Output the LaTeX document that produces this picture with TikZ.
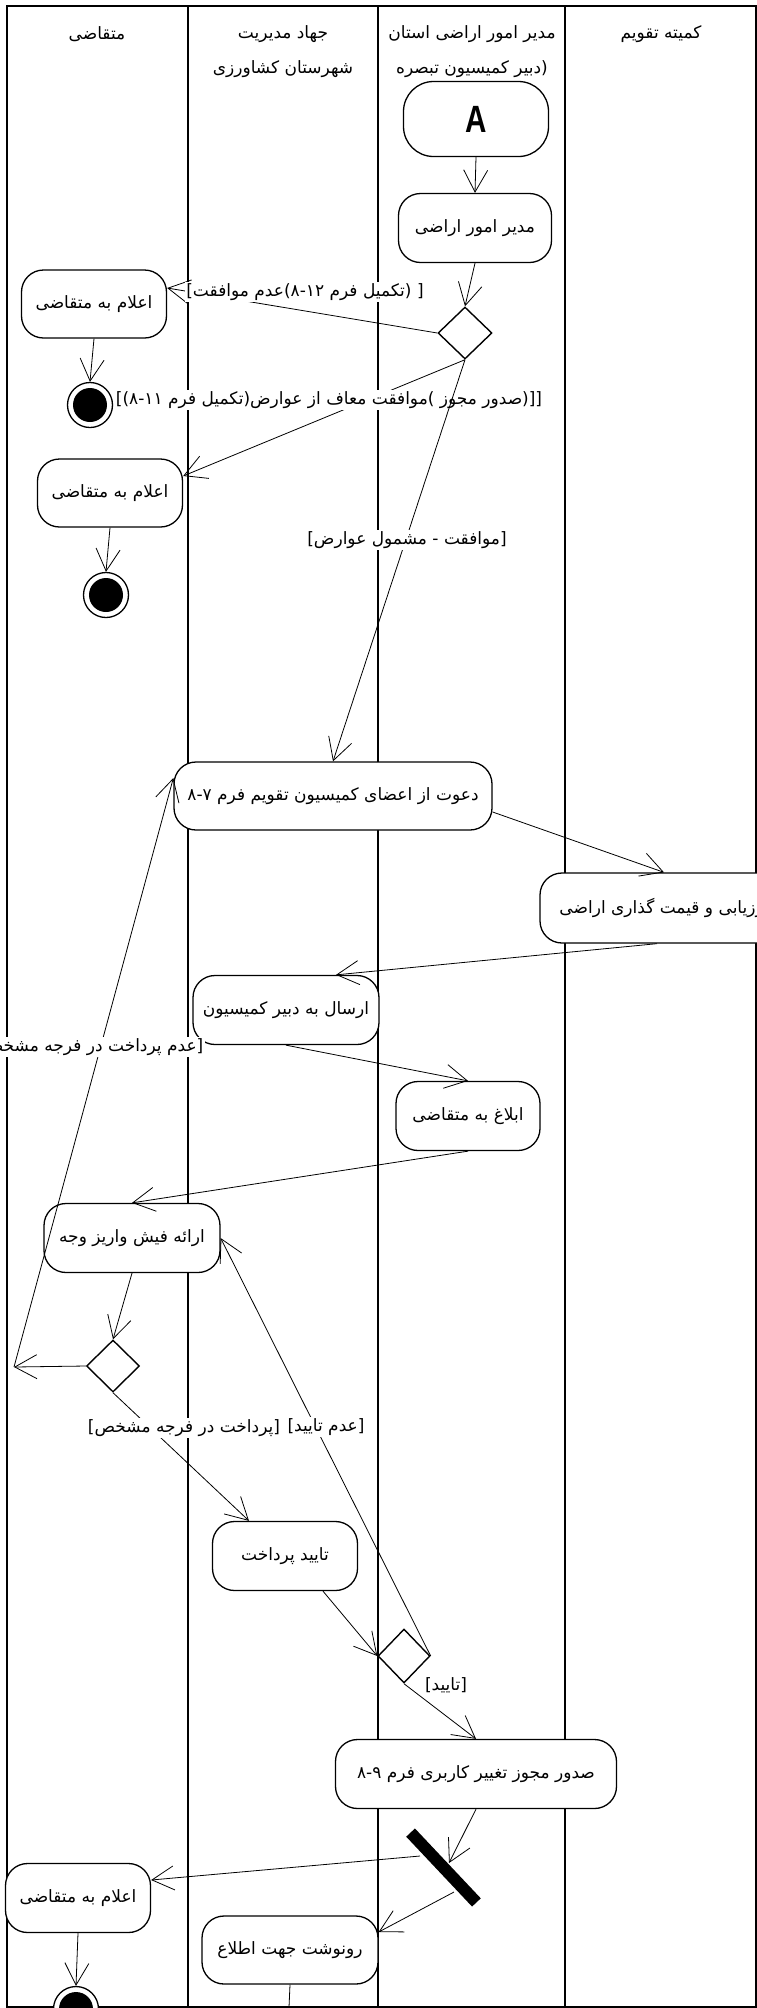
\documentclass[tikz,border=0pt]{standalone}
\usepackage{fontspec}
\setmainfont{DejaVu Sans}[Script=Arabic]
\newfontfamily\latinfont{Liberation Sans}
\usetikzlibrary{arrows.meta,shapes.geometric}
\TeXXeTstate=1
\newcommand\RR[1]{\beginR #1\endR}
\newcommand\KK{\kern0pt}
\begin{document}
\begin{tikzpicture}[x=1pt,y=-1pt,
  font=\fontsize{17}{20}\selectfont,
  act/.style={draw, line width=1.3pt, rounded corners=22pt, fill=white,
    minimum height=69pt, inner sep=3pt},
  dec/.style={draw, line width=1.4pt, diamond, fill=white, inner sep=0pt,
    minimum width=54pt, minimum height=52pt},
  fin/.style={circle, draw, line width=1.3pt, fill=white, minimum size=45pt, inner sep=0pt,
    path picture={\fill[black] (path picture bounding box.center) circle (17pt);}},
  flow/.style={line width=0.8pt, -{Straight Barb[length=22pt,width=24pt,line width=0.8pt]}},
  lbl/.style={fill=white, inner sep=1.5pt},
  lane/.style={line width=1.6pt}]
\useasboundingbox (0,0) rectangle (757,2008);
% frame and lanes
\draw[lane] (7,6) rectangle (756,2007);
\draw[lane] (188,6) -- (188,2007);
\draw[lane] (378,6) -- (378,2007);
\draw[lane] (565,6) -- (565,2007);
% headers
\node (h1) at (97,34) {\RR{متقاضی}};
\node (h2a) at (283,34) {\RR{جهاد مدیریت}};
\node (h2b) at (283,69) {\RR{شهرستان کشاورزی}};
\node (h3a) at (472,34) {\RR{مدیر امور اراضی استان}};
\node (h3b) at (472,69) {\RR{دبیر کمیسیون تبصره}\KK(};
\node (h4) at (661,34) {\RR{کمیته تقویم}};
% activity nodes
\node[act, minimum width=145pt, minimum height=75pt, rounded corners=30pt] (A) at (476,119)
  {\scalebox{0.78}[1]{\latinfont\bfseries\fontsize{38}{40}\selectfont A}};
\node[act, minimum width=153pt] (m) at (475,228) {\RR{مدیر امور اراضی}};
\node[dec] (d1) at (465,333) {};
\node[act, minimum width=145pt, minimum height=68pt] (n1) at (94,304) {\RR{اعلام به متقاضی}};
\node[fin] (f1) at (90,405) {};
\node[act, minimum width=145pt, minimum height=68pt] (n2) at (110,493) {\RR{اعلام به متقاضی}};
\node[fin] (f2) at (106,595) {};
\node[act, minimum width=318pt, minimum height=68pt] (dw) at (333,796)
  {۸\KK-\KK۷ \RR{دعوت از اعضای کمیسیون تقویم فرم}};
\node[act, minimum width=248pt, minimum height=70pt] (arz) at (664,908)
  {\RR{ارزیابی و قیمت گذاری اراضی}};
\node[act, minimum width=186pt] (er) at (286,1010) {\RR{ارسال به دبیر کمیسیون}};
\node[act, minimum width=144pt] (eb) at (468,1116) {\RR{ابلاغ به متقاضی}};
\node[act, minimum width=176pt] (ea) at (132,1238) {\RR{ارائه فیش واریز وجه}};
\node[dec, minimum width=53pt] (d2) at (113,1366) {};
\node[act, minimum width=145pt] (tp) at (285,1556) {\RR{تایید پرداخت}};
\node[dec, minimum width=52pt, minimum height=54pt] (d3) at (404,1656) {};
\node[act, minimum width=281pt] (sd) at (476,1774)
  {۸\KK-\KK۹ \RR{صدور مجوز تغییر کاربری فرم}};
\node[fill=black, minimum width=96pt, minimum height=12pt, inner sep=0pt, rotate=-46.7] (bar)
  at (443.5,1867.5) {};
\node[act, minimum width=145pt] (n3) at (78,1898) {\RR{اعلام به متقاضی}};
\node[fin] (f3) at (76,2009) {};
\node[act, minimum width=176pt, minimum height=68pt] (ro) at (290,1950) {\RR{رونوشت جهت اطلاع}};
% free coordinates
\coordinate (c1) at (14,1367);
\coordinate (c2) at (288,2030);
\coordinate (barin) at (449,1863);
\coordinate (barL) at (420,1856);
\coordinate (barR) at (454,1892);
% connectors and guards
\draw[flow] (A.south) -- (m.north);
\draw[flow] (m.south) -- (d1.north);
\draw[flow] (d1.west) -- ([yshift=16pt]n1.east);
\node[lbl] (l1) at (305,292) {]\KK\RR{عدم موافقت}\KK)\KK۸\KK-\KK۱۲ \RR{تکمیل فرم}\KK(\ [};
\draw[flow] (n1.south) -- (f1.north);
\draw[flow] (d1.south) -- ([yshift=17pt]n2.east);
\node[lbl] (l2) at (329,400) {]\KK)\KK۸\KK-\KK۱۱ \RR{تکمیل فرم}\KK(\KK\RR{موافقت معاف از عوارض}\KK)\ \RR{صدور مجوز}\KK(\KK[\KK[};
\draw[flow] (n2.south) -- (f2.north);
\draw[flow] (d1.south) -- (dw.north);
\node[lbl] (l3) at (407,540) {]\KK\RR{موافقت - مشمول عوارض}\KK[};
\draw[flow] ([yshift=-16pt]dw.east) -- (arz.north);
\draw[flow] ([xshift=-7pt]arz.south) -- ([xshift=50pt]er.north);
\draw[flow] (er.south) -- (eb.north);
\draw[flow] (eb.south) -- (ea.north);
\draw[flow] (ea.south) -- (d2.north);
\draw[flow] (d2.west) -- (c1);
\draw[flow] (c1) -- ([yshift=18pt]dw.west);
\node[lbl, anchor=east] (l4) at (205,1047) {]\KK\RR{عدم پرداخت در فرجه مشخص}\KK[};
\draw[flow] (d2.south) -- ([xshift=-36pt]tp.north);
\node[lbl] (l6) at (184,1428) {]\KK\RR{پرداخت در فرجه مشخص}\KK[};
\draw[flow] (d3.east) -- (ea.east);
\node[lbl] (l5) at (326,1427) {]\KK\RR{عدم تایید}\KK[};
\draw[flow] ([xshift=38pt]tp.south) -- (d3.west);
\draw[flow] (d3.south) -- (sd.north);
\node[lbl] (l7) at (446,1685) {]\KK\RR{تایید}\KK[};
\draw[flow] (sd.south) -- (barin);
\draw[flow] (barL) -- ([yshift=18pt]n3.east);
\draw[flow] (barR) -- ([yshift=18pt]ro.east);
\draw[flow] (n3.south) -- (f3.north);
\draw[flow] (ro.south) -- (c2);
\end{tikzpicture}
\end{document}
